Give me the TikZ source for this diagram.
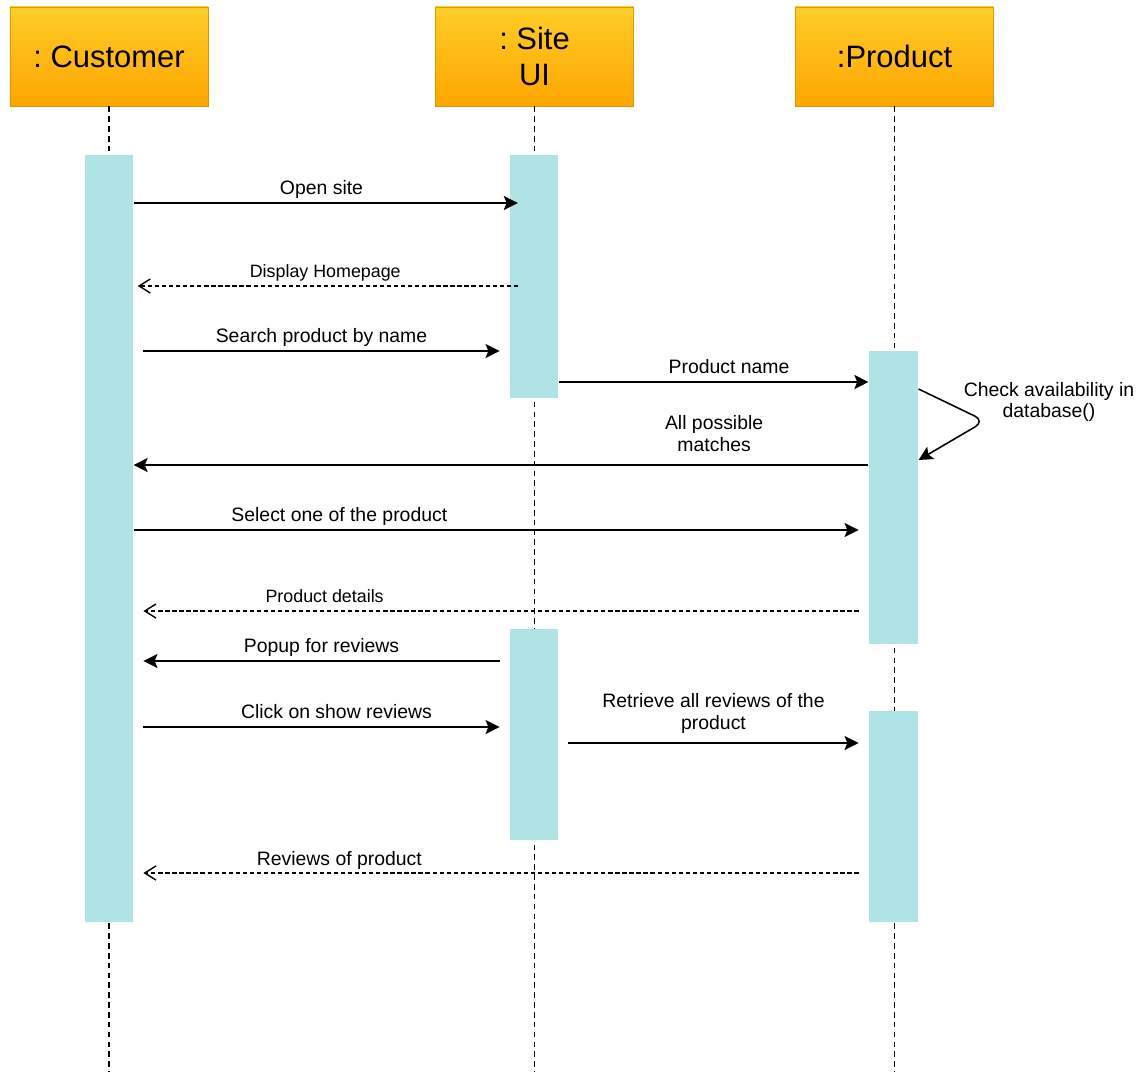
\documentclass[tikz,border=0pt]{standalone}
\usepackage{fontspec}
\setmainfont{Liberation Sans}
\frenchspacing
\usetikzlibrary{arrows.meta, calc, fit, positioning}
\definecolor{head-top}{HTML}{FFCD28}
\definecolor{head-bot}{HTML}{FFA500}
\definecolor{head-line}{HTML}{D79B00}
\definecolor{act-blue}{HTML}{B0E3E6}

\begin{document}
\begin{tikzpicture}[x=0.025cm, y=-0.025cm, thick]
  \tikzstyle{head} = [draw=head-line, line width=0.5pt, top color=head-top, bottom color=head-bot,
                      minimum width=4.95cm, minimum height=2.475cm, align=center,
                      font=\fontsize{22}{26}\selectfont]
  \tikzstyle{actbar} = [fill=act-blue, inner sep=0pt]
  \tikzstyle{lifeline} = [line width=1.1pt, dash pattern=on 4pt off 3pt]
  \tikzstyle{msg} = [line width=1.1pt, -{Stealth[length=10pt, width=10pt, inset=2pt]}]
  \tikzstyle{reply} = [line width=1pt, dash pattern=on 3pt off 2pt, -{Straight Barb[length=8pt, width=10pt]}]
  \tikzstyle{gap} = [shorten <=7pt, shorten >=7pt]
  \tikzstyle{lbl} = [above, inner sep=3pt, text depth=0.22em, align=center,
                     font=\fontsize{13.8}{15.5}\selectfont]
  \tikzstyle{small} = [font=\fontsize{12.7}{15}\selectfont]
  \useasboundingbox (0,0) rectangle (1141,1072);
% Objects.
  \node[head] (cust) at (109,56.5)   {: Customer};
  \node[head] (site) at (534.5,56.5) {: Site\\UI};
  \node[head] (prod) at (894.5,56.5) {:Product};
% Lifelines.
  \draw[lifeline] (cust.south) -- (cust.south |- 0,1072);
  \draw[lifeline] (site.south) -- (site.south |- 0,1072);
  \draw[lifeline] (prod.south) -- (prod.south |- 0,1072);
% Activation bars.
  \node[actbar, fit={(85,155) (133,922)}]  (custbar)  {};
  \node[actbar, fit={(510,155) (558,398)}] (sitebar1) {};
  \node[actbar, fit={(510,629) (558,840)}] (sitebar2) {};
  \node[actbar, fit={(869,351) (918,644)}] (prodbar1) {};
  \node[actbar, fit={(869,711) (918,922)}] (prodbar2) {};
% Messages.
  \draw[msg, shorten >=-6pt] (custbar.east |- 0,203) -- node[lbl] (l-open) {Open site} (sitebar1.west |- 0,203);
  \draw[reply, shorten <=-6pt, shorten >=3pt] (sitebar1.west |- 0,286)
        -- node[lbl, small, pos=0.49] (l-home) {Display Homepage} (custbar.east |- 0,286);
  \draw[msg, gap] (custbar.east |- 0,351) -- node[lbl] (l-search) {Search product by name} (sitebar1.west |- 0,351);
  \draw[msg] (sitebar1.east |- 0,382) -- node[lbl, pos=0.55] (l-name) {Product name} (prodbar1.west |- 0,382);
  % self call
  \coordinate (chk) at (985,421);
  \draw[msg, rounded corners=8pt] (prodbar1.east |- 0,389) -- (chk) -- (prodbar1.east |- 0,460);
  \node[align=center, font=\fontsize{13.8}{15.5}\selectfont] (l-chk) at (1049,402) {Check availability in\\database()};
  \draw[msg] (prodbar1.west |- 0,465) -- node[lbl, pos=0.21, above=4pt] (l-match) {All possible\\matches} (custbar.east |- 0,465);
  \draw[msg, shorten >=7pt] (custbar.east |- 0,530) -- node[lbl, pos=0.28] (l-select) {Select one of the product} (prodbar1.west |- 0,530);
  \draw[reply, gap] (prodbar1.west |- 0,611) -- node[lbl, small, pos=0.74] (l-detail) {Product details} (custbar.east |- 0,611);
  \draw[msg, gap] (sitebar2.west |- 0,661) -- node[lbl] (l-popup) {Popup for reviews} (custbar.east |- 0,661);
  \draw[msg, gap] (custbar.east |- 0,727) -- node[lbl, pos=0.54] (l-click) {Click on show reviews} (sitebar2.west |- 0,727);
  \draw[msg, gap] (sitebar2.east |- 0,743) -- node[lbl, above=4pt] (l-fetch) {Retrieve all reviews of the\\product} (prodbar2.west |- 0,743);
  \draw[reply, gap] (prodbar2.west |- 0,873) -- node[lbl, pos=0.72] (l-reviews) {Reviews of product} (custbar.east |- 0,873);
\end{tikzpicture}
\end{document}
